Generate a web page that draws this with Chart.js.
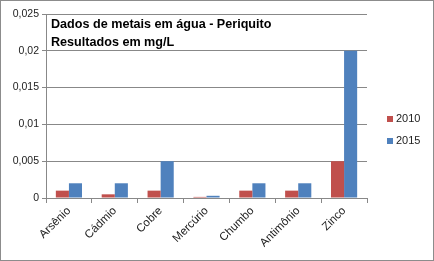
<!DOCTYPE html>
<html>
<head>
<meta charset="utf-8">
<script src="https://cdn.jsdelivr.net/npm/chart.js@4"></script>
<style>
  body { margin: 0; background: #fff; }
  #wrap { position: relative; width: 434px; height: 261px; font-family: "Liberation Sans", Arial, sans-serif; }
  #frame { position: absolute; left: 0; top: 0; width: 432px; height: 259px; border: 1px solid #8c8c8c; pointer-events: none; }
  #title { position: absolute; left: 51px; top: 15px; font-weight: bold; font-size: 12.6px; line-height: 18px; color: #000; }
  .leg { position: absolute; left: 387px; font-size: 11px; color: #222; }
  .leg span { display: inline-block; width: 6px; height: 6px; margin-right: 3px; }
</style>
</head>
<body>
<div id="wrap">
  <canvas id="myChart" width="434" height="261"></canvas>
  <div id="title">Dados de metais em água - Periquito<br>Resultados em mg/L</div>
  <div class="leg" style="top:112px"><span style="background:#C0504D"></span>2010</div>
  <div class="leg" style="top:134px"><span style="background:#4F81BD"></span>2015</div>
  <div id="frame"></div>
</div>
<script>
// metals and measured values (mg/L)
var metais = ['Arsênio', 'Cádmio', 'Cobre', 'Mercúrio', 'Chumbo', 'Antimônio', 'Zinco'];
var valores2010 = [0.001, 0.0005, 0.001, 0.00015, 0.001, 0.001, 0.005];
var valores2015 = [0.002, 0.002, 0.005, 0.0003, 0.002, 0.002, 0.02];
var yTicks = ['0', '0,005', '0,01', '0,015', '0,02', '0,025'];

window.onload = () => {
    var ctx = document.getElementById('myChart').getContext('2d');
    var myChart = new Chart(ctx, {
        type: 'bar',
        data: {
            labels: metais,
            datasets: [{
                label: '2010',
                data: valores2010,
                backgroundColor: '#C0504D',
                categoryPercentage: 0.571,
                barPercentage: 1
            }, {
                label: '2015',
                data: valores2015,
                backgroundColor: '#4F81BD',
                categoryPercentage: 0.571,
                barPercentage: 1
            }]
        },
        options: {
            responsive: false,
            animation: false,
            layout: { padding: { top: 14, right: 67, left: 0, bottom: 0 } },
            plugins: {
                legend: { display: false },
                tooltip: { enabled: false }
            },
            scales: {
                x: {
                    grid: { drawOnChartArea: false, tickLength: 5, color: '#888' },
                    border: { color: '#888' },
                    ticks: {
                        minRotation: 45, maxRotation: 45,
                        color: '#222',
                        padding: 1,
                        font: { family: 'Liberation Sans', size: 11.5 }
                    },
                    afterFit: (s) => { s.height = 63; }
                },
                y: {
                    min: 0, max: 0.025,
                    grid: { color: '#888', tickLength: 4 },
                    border: { color: '#888' },
                    ticks: {
                        stepSize: 0.005,
                        color: '#222',
                        padding: 3,
                        font: { family: 'Liberation Sans', size: 10.5 },
                        callback: (v, i) => yTicks[i]
                    },
                    afterFit: (s) => { s.width = 46; }
                }
            }
        }
    });
}
</script>
</body>
</html>
